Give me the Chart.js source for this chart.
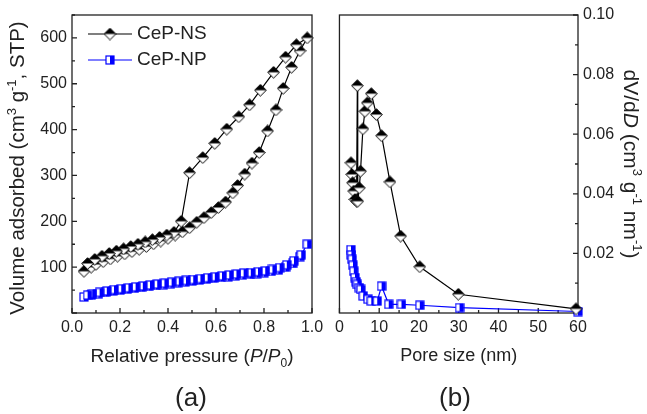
<!DOCTYPE html>
<html><head><meta charset="utf-8">
<script src="https://cdn.jsdelivr.net/npm/chart.js@4/dist/chart.umd.min.js"></script>
<style>
html,body{margin:0;padding:0;background:#fff;width:647px;height:414px;overflow:hidden}
#ca{position:absolute;left:0;top:0}
#cb{position:absolute;left:330px;top:0}
</style></head><body>
<canvas id="ca" width="330" height="414"></canvas>
<canvas id="cb" width="317" height="414"></canvas>
<script>
// ---------- data: (a) N2 isotherms ----------
const nsAdsP = [0.05,0.08,0.10,0.13,0.16,0.19,0.22,0.25,0.28,0.31,0.34,0.37,0.40,0.43,0.46,0.49,0.52,0.55,0.58,0.61,0.64,0.67,0.69,0.72,0.75,0.78,0.815,0.85,0.88,0.915,0.95,0.98];
const nsAdsV = [91,100,106,112,118,124,129,134,139,145,151,157,163,170,177,186,198,208,219,230,242,262,278,303,327,350,397,443,490,536,572,600];
const nsDesP = [0.935,0.89,0.84,0.785,0.74,0.695,0.645,0.595,0.545,0.49,0.455,0.425,0.395,0.365,0.335,0.305,0.275,0.245,0.215,0.185,0.155,0.125,0.095,0.065];
const nsDesV = [585,558,525,486,454,428,401,370,339,306,200,176,170,165,160,155,150,145,140,135,130,124,117,108];
const npAdsP = [0.05,0.08,0.11,0.14,0.17,0.20,0.23,0.26,0.29,0.32,0.35,0.38,0.41,0.44,0.47,0.50,0.53,0.56,0.59,0.62,0.65,0.68,0.71,0.74,0.77,0.80,0.83,0.86,0.89,0.92,0.95,0.98];
const npAdsV = [35,39,42,45,48,50,52,54,56,58,60,62,64,66,68,70,72,74,76,78,79,81,83,84,86,88,91,94,100,108,123,150];
const npDesP = [0.955,0.925,0.895,0.865,0.835,0.805,0.775,0.745,0.715,0.685,0.655,0.625,0.595,0.565,0.535,0.505,0.475,0.445,0.415,0.385,0.355,0.325,0.295,0.265,0.235,0.205,0.175,0.145,0.115,0.085,0.065];
const npDesV = [127,114,105,99,95,92,90,88,87,85,83,81,79,77,75,73,71,69,67,65,63,61,59,57,55,53,51,48,45,42,39];
// ---------- data: (b) pore size distributions ----------
const nsPoreD = [2.9,3.1,3.3,3.6,3.9,4.3,4.5,4.6,5.0,5.3,5.9,6.4,7.0,8.0,9.3,10.6,12.7,15.4,20.2,29.9,59.5];
const nsDvDd  = [0.0504,0.0465,0.0437,0.0409,0.0381,0.0375,0.0763,0.0375,0.0420,0.0476,0.0618,0.0677,0.0705,0.0736,0.0666,0.0595,0.0440,0.0258,0.0155,0.0063,0.0014];
const npPoreD = [2.9,3.0,3.2,3.4,3.6,3.9,4.2,4.5,5.0,5.4,6.0,7.2,8.0,9.5,10.6,12.4,15.6,20.2,30.2,60];
const npDvDd  = [0.0213,0.0195,0.0180,0.0160,0.0140,0.0119,0.0105,0.0096,0.0085,0.0079,0.0057,0.0046,0.0040,0.0040,0.0090,0.0029,0.0029,0.0026,0.0018,0.0005];
// ---------- ticks ----------
const isoXTicks = [0,0.2,0.4,0.6,0.8,1.0];
const isoYTicks = [100,200,300,400,500,600];
const psdXTicks = [0,10,20,30,40,50,60];
const psdYTicks = [0.02,0.04,0.06,0.08,0.10];

const FONT = '"Liberation Sans", Arial, Helvetica, sans-serif';
const TXT = '#222';
Chart.defaults.font.family = FONT;
Chart.defaults.color = TXT;

function pts(xs, ys){ return xs.map((x,i)=>({x:x, y:ys[i]})); }

// marker images
function diamondImg(){
  const s=13, c=document.createElement('canvas'); c.width=s; c.height=s;
  const g=c.getContext('2d'); const h=s/2;
  const path=()=>{g.beginPath();g.moveTo(h,0.7);g.lineTo(s-0.7,h);g.lineTo(h,s-0.7);g.lineTo(0.7,h);g.closePath();};
  path(); g.fillStyle='#fff'; g.fill();
  g.save(); g.beginPath(); g.rect(0,0,s,h); g.clip(); path(); g.fillStyle='#000'; g.fill(); g.restore();
  path(); g.strokeStyle='#000'; g.lineWidth=1; g.stroke();
  return c;
}
function squareImg(){
  const w=10, hgt=10, c=document.createElement('canvas'); c.width=w; c.height=hgt;
  const g=c.getContext('2d');
  g.fillStyle='#fff'; g.fillRect(1,1,w-2,hgt-2);
  g.fillStyle='#0000ff'; g.fillRect(w/2,1,w/2-1,hgt-2);
  g.strokeStyle='#0000ff'; g.lineWidth=1.2; g.strokeRect(1,1,w-2,hgt-2);
  return c;
}
const DIA = diamondImg(), SQ = squareImg();

function richText(ctx, segs, x, y, rot, size){
  ctx.save(); ctx.translate(x,y); ctx.rotate(rot);
  const f = s => (s.i?'italic ':'') + (s.s? Math.round(size*0.62): size) + 'px ' + FONT;
  let w=0; segs.forEach(s=>{ctx.font=f(s); s.w=ctx.measureText(s.t).width; w+=s.w;});
  let cx=-w/2; ctx.fillStyle=TXT; ctx.textBaseline='alphabetic'; ctx.textAlign='left';
  const base=size*0.36;
  segs.forEach(s=>{ctx.font=f(s); const dy = base + (s.s==='sup'? -size*0.42 : s.s==='sub'? size*0.28 : 0); ctx.fillText(s.t,cx,dy); cx+=s.w;});
  ctx.restore();
}

function framePlugin(cfg){
  return {
    id:'frame',
    beforeDatasetsDraw(chart){
      const {ctx, chartArea:a, scales:{x,y}} = chart;
      ctx.save();
      ctx.strokeStyle='#222'; ctx.lineWidth=1.3;
      ctx.strokeRect(a.left, a.top, a.right-a.left, a.bottom-a.top);
      ctx.beginPath();
      const xm = cfg.xTicks, ym = cfg.yTicks;
      const xs = xm[1]-xm[0], ys = ym[1]-ym[0];
      for(let v=x.min; v<=x.max+1e-9; v+=xs/2){
        const p=x.getPixelForValue(v); const major = Math.abs((v/xs)-Math.round(v/xs))<1e-6;
        ctx.moveTo(p,a.bottom); ctx.lineTo(p,a.bottom-(major?5:3));
      }
      for(let v=y.min; v<=y.max+1e-9; v+=ys/2){
        const p=y.getPixelForValue(v); const major = Math.abs((v/ys)-Math.round(v/ys))<1e-6;
        const L = major?5:3;
        if(cfg.right){ ctx.moveTo(a.right,p); ctx.lineTo(a.right-L,p); }
        else { ctx.moveTo(a.left,p); ctx.lineTo(a.left+L,p); }
      }
      ctx.stroke();
      ctx.restore();
    },
    afterDraw(chart){ cfg.texts(chart.ctx, chart); }
  };
}

function axisOpts(ticksArr, fmt, fitW, fitH, pos){
  const o = {
    type:'linear',
    grid:{display:false, drawTicks:false},
    border:{display:false},
    ticks:{font:{size:16}, color:TXT, padding:5, maxRotation:0, autoSkip:false, callback:fmt},
    afterBuildTicks:(s)=>{ s.ticks = ticksArr.map(v=>({value:v})); }
  };
  if(pos) o.position=pos;
  if(fitW!=null) o.afterFit=(s)=>{ s.width=fitW; };
  if(fitH!=null) o.afterFit=(s)=>{ s.height=fitH; };
  return o;
}

// ---------- chart (a) ----------
new Chart(document.getElementById('ca'), {
  type:'scatter',
  data:{datasets:[
    {label:'CeP-NS', data:pts(nsAdsP,nsAdsV).concat(pts(nsDesP,nsDesV)), showLine:true, borderColor:'#000', borderWidth:1.2, pointStyle:DIA, clip:false},
    {label:'CeP-NP', data:pts(npAdsP,npAdsV).concat(pts(npDesP,npDesV)), showLine:true, borderColor:'#0000ff', borderWidth:1.2, pointStyle:SQ, clip:false}
  ]},
  options:{
    responsive:false, animation:false, devicePixelRatio:1,
    layout:{padding:{left:0, top:15, right:18, bottom:0}},
    plugins:{legend:{display:false}, tooltip:{enabled:false}},
    scales:{
      x:Object.assign(axisOpts(isoXTicks, v=>v.toFixed(1), null, 101), {min:0, max:1}),
      y:Object.assign(axisOpts(isoYTicks, v=>String(v), 72, null), {min:0, max:650})
    }
  },
  plugins:[framePlugin({xTicks:isoXTicks, yTicks:isoYTicks, right:false, texts:(ctx,chart)=>{
    const a=chart.chartArea;
    // legend
    ctx.save();
    ctx.lineWidth=1.2;
    ctx.strokeStyle='#000'; ctx.beginPath(); ctx.moveTo(88,34); ctx.lineTo(132,34); ctx.stroke();
    ctx.drawImage(DIA, 110-DIA.width/2, 34-DIA.height/2);
    ctx.strokeStyle='#0000ff'; ctx.beginPath(); ctx.moveTo(88,60); ctx.lineTo(132,60); ctx.stroke();
    ctx.drawImage(SQ, 110-SQ.width/2, 60-SQ.height/2);
    ctx.fillStyle=TXT; ctx.font='19px '+FONT; ctx.textBaseline='middle'; ctx.textAlign='left';
    ctx.fillText('CeP-NS',137,34); ctx.fillText('CeP-NP',137,60);
    ctx.restore();
    richText(ctx,[{t:'Volume adsorbed (cm'},{t:'3',s:'sup'},{t:' g'},{t:'-1',s:'sup'},{t:', STP)'}], 17, (a.top+a.bottom)/2+4, -Math.PI/2, 20.5);
    richText(ctx,[{t:'Relative pressure ('},{t:'P',i:true},{t:'/'},{t:'P',i:true},{t:'0',s:'sub'},{t:')'}], (a.left+a.right)/2, 355, 0, 19);
    richText(ctx,[{t:'(a)'}], 191, 397, 0, 26);
  }})]
});

// ---------- chart (b) ----------
new Chart(document.getElementById('cb'), {
  type:'scatter',
  data:{datasets:[
    {label:'CeP-NS', data:pts(nsPoreD,nsDvDd), showLine:true, borderColor:'#000', borderWidth:1.2, pointStyle:DIA, clip:false},
    {label:'CeP-NP', data:pts(npPoreD,npDvDd), showLine:true, borderColor:'#0000ff', borderWidth:1.2, pointStyle:SQ, clip:false}
  ]},
  options:{
    responsive:false, animation:false, devicePixelRatio:1,
    layout:{padding:{left:9, top:15, right:0, bottom:0}},
    plugins:{legend:{display:false}, tooltip:{enabled:false}},
    scales:{
      x:Object.assign(axisOpts(psdXTicks, v=>String(v), null, 101), {min:0, max:60}),
      y:Object.assign(axisOpts(psdYTicks, v=>v.toFixed(2), 69, null, 'right'), {min:0, max:0.10})
    }
  },
  plugins:[framePlugin({xTicks:psdXTicks, yTicks:psdYTicks, right:true, texts:(ctx,chart)=>{
    const a=chart.chartArea;
    richText(ctx,[{t:'dV/d'},{t:'D',i:true},{t:' (cm'},{t:'3',s:'sup'},{t:' g'},{t:'-1',s:'sup'},{t:' nm'},{t:'-1',s:'sup'},{t:')'}], 302, (a.top+a.bottom)/2, Math.PI/2, 21);
    richText(ctx,[{t:'Pore size (nm)'}], (a.left+a.right)/2, 355, 0, 18);
    richText(ctx,[{t:'(b)'}], 125, 397, 0, 26);
  }})]
});
</script>
</body></html>
